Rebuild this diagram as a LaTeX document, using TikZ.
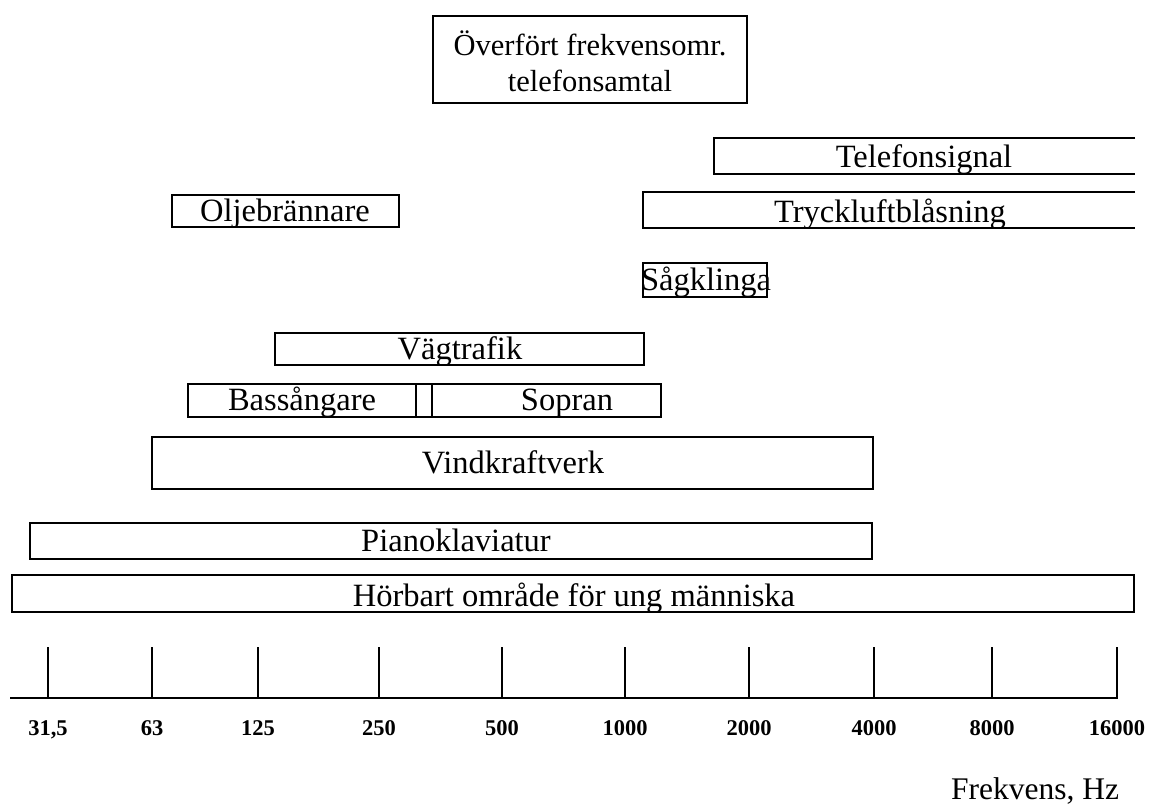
\documentclass[tikz,border=0pt]{standalone}
\usepackage{fontspec}
\setmainfont{Liberation Serif}
\begin{document}
\begin{tikzpicture}[x=1pt,y=-1pt,
  bar/.style={line width=1.6pt},
  lbl/.style={inner sep=0pt,anchor=base,font=\fontsize{32.5}{36}\selectfont},
  toplbl/.style={inner sep=0pt,anchor=base,font=\fontsize{30.5}{36}\selectfont},
  ticklbl/.style={inner sep=0pt,anchor=base,font=\fontsize{22.5}{26}\selectfont\bfseries},
  axis/.style={line width=1.6pt}]
\useasboundingbox (0,0) rectangle (1151,807);
% top box
\draw[bar] (433,16) rectangle (747,103);
\node[toplbl] (top1) at (590,55) {Överfört frekvensomr.};
\node[toplbl] (top2) at (590,91) {telefonsamtal};
% Telefonsignal (open right)
\draw[bar] (1135,138) -- (714,138) -- (714,174) -- (1135,174);
\node[lbl] (tel) at (924,167) {Telefonsignal};
% Tryckluftblåsning (open right)
\draw[bar] (1135,192) -- (643,192) -- (643,228) -- (1135,228);
\node[lbl] (tryck) at (890,222) {Tryckluftblåsning};
% Oljebrännare
\draw[bar] (172,195) rectangle (399,227);
\node[lbl] (olje) at (285,221) {Oljebrännare};
% Sågklinga
\draw[bar] (643,263) rectangle (767,297);
\node[lbl] (sag) at (706,290) {Sågklinga};
% Vägtrafik
\draw[bar] (275,333) rectangle (644,365);
\node[lbl] (vag) at (460,359) {Vägtrafik};
% Bassångare / Sopran
\draw[bar] (188,384) rectangle (416,417);
\draw[bar] (416,384) rectangle (432,417);
\draw[bar] (432,384) rectangle (661,417);
\node[lbl] (bass) at (302,410) {Bassångare};
\node[lbl] (sop) at (567,410) {Sopran};
% Vindkraftverk
\draw[bar] (152,437) rectangle (873,489);
\node[lbl] (vind) at (513,473) {Vindkraftverk};
% Pianoklaviatur
\draw[bar] (30,523) rectangle (872,559);
\node[lbl] (piano) at (456,551) {Pianoklaviatur};
% Hörbart
\draw[bar] (12,575) rectangle (1134,612);
\node[lbl] (hor) at (574,606) {Hörbart område för ung människa};
% axis
\draw[axis] (10,698) -- (1118,698);
\foreach \x/\t/\n in {48/{31,5}/a,152/63/b,258/125/c,379/250/d,502/500/e,625/1000/f,749/2000/g,874/4000/h,992/8000/i,1117/16000/j}{
  \draw[axis] (\x,647) -- (\x,698);
  \node[ticklbl] (t\n) at (\x,735) {\t};
}
\node[inner sep=0pt,anchor=base,font=\fontsize{31.5}{36}\selectfont] (freq) at (1035,799) {Frekvens, Hz};
\end{tikzpicture}
\end{document}
